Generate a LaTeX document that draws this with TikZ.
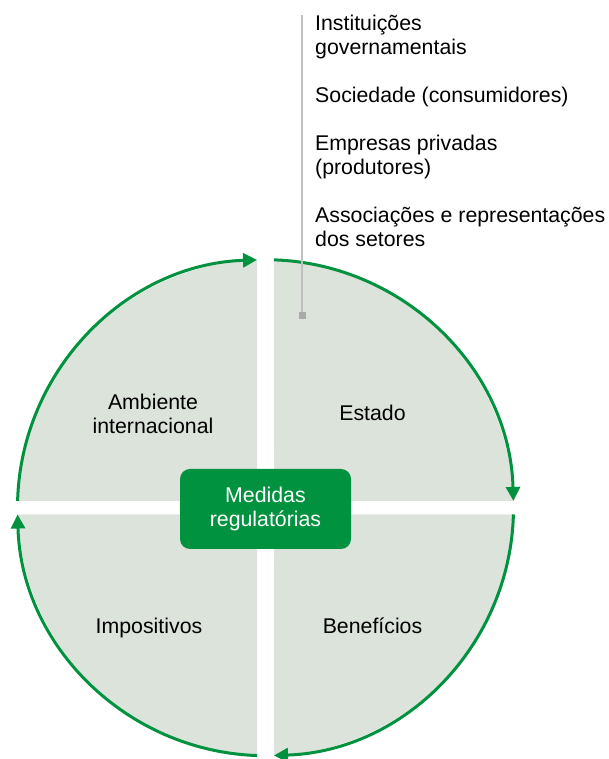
\documentclass[tikz,border=0pt]{standalone}
\usepackage{fontspec}
\setmainfont{Liberation Sans}
\usetikzlibrary{arrows.meta}
\definecolor{verde}{RGB}{0,146,63}
\definecolor{fundo}{RGB}{220,227,219}
\definecolor{cinzaguia}{RGB}{192,192,192}
\definecolor{cinzamarca}{RGB}{170,170,170}
\begin{document}
\begin{tikzpicture}[x=1pt,y=1pt,
    every node/.style={font=\fontsize{21.3}{24}\selectfont, inner sep=0pt},
    setor/.style={fill=fundo},
    fluxo/.style={draw=verde, line width=3pt, -{Triangle[length=14pt,width=14pt]}},
    caixa/.style={fill=verde, text=white, rounded corners=10pt, minimum width=171pt,
      minimum height=80pt, align=center},
    rotulo/.style={align=center},
    item/.style={align=left, anchor=base west},
    marca/.style={fill=cinzamarca, minimum size=7pt},
    guia/.style={draw=cinzaguia, line width=2pt}]
  \useasboundingbox (0,0) rectangle (609,759);
  \begin{scope}[shift={(265.5,251.3)}]
    \foreach \a/\b/\h/\v in {178.43/91.96/-8.5/6.8, 88.04/1.57/8.5/6.8,
        -1.57/-88.04/8.5/-6.8, -91.96/-178.43/-8.5/-6.8}
    {
      \fill[setor] (\h,\v) -- (\a:248) arc[start angle=\a, end angle=\b, radius=248] -- cycle;
      \draw[fluxo] (\a:248) arc[start angle=\a, end angle=\b, radius=248];
    }
  \end{scope}
  \node[caixa] (medidas) at (265.5,250) {Medidas\\regulatórias};
  \node[rotulo] (ambiente) at (153,345.5) {Ambiente\\internacional};
  \node[rotulo] (estado) at (372.5,346) {Estado};
  \node[rotulo] (impositivos) at (149,131) {Impositivos};
  \node[rotulo] (beneficios) at (372.5,133) {Benefícios};
  % atores do Estado
  \coordinate (topo) at (302,744);
  \node[marca] (ponto) at (302,443) {};
  \draw[guia] (topo) -- (ponto);
  \node[item] (instituicoes) at (315,704.5) {Instituições\\governamentais};
  \node[item] (sociedade) at (315,656.5) {Sociedade (consumidores)};
  \node[item] (empresas) at (315,584.5) {Empresas privadas\\(produtores)};
  \node[item] (associacoes) at (315,512.5) {Associações e representações\\dos setores};
\end{tikzpicture}
\end{document}
